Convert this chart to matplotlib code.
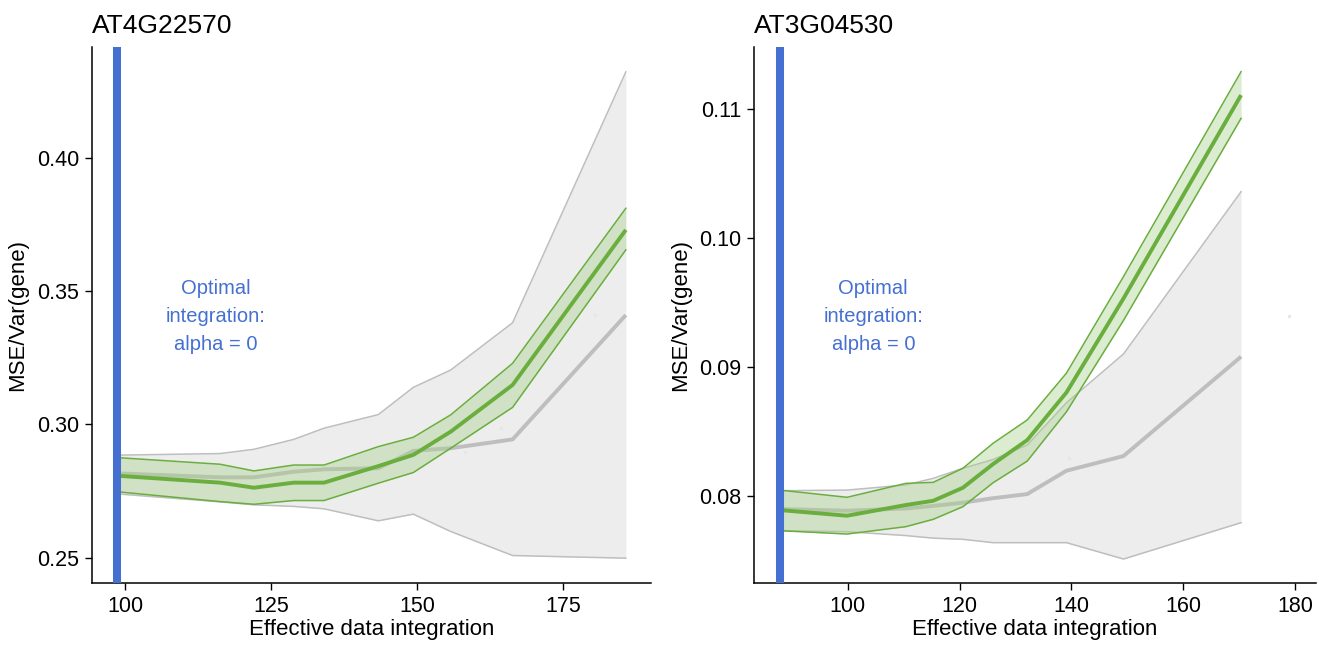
import numpy as np
import matplotlib

matplotlib.use("Agg")
import matplotlib.pyplot as plt

plt.rcParams["font.family"] = ["Liberation Sans", "DejaVu Sans"]

# Data panel kiri (AT4G22570)
left_title = "AT4G22570"
left_x = [98.6, 116.3, 122.1, 128.9, 134.1, 143.4, 149.4, 155.8, 166.4, 185.8]
left_green_mid = [0.2808, 0.2782, 0.2763, 0.2782, 0.2782, 0.2844, 0.2886, 0.2973, 0.3148, 0.3729]
left_green_hi = [0.2876, 0.2851, 0.2826, 0.2848, 0.2848, 0.2917, 0.2952, 0.3036, 0.3229, 0.3810]
left_green_lo = [0.2748, 0.2711, 0.2701, 0.2715, 0.2715, 0.2780, 0.2820, 0.2911, 0.3064, 0.3654]
left_grey_mid = [0.2817, 0.2802, 0.2802, 0.2823, 0.2832, 0.2836, 0.2901, 0.2911, 0.2944, 0.3410]
left_grey_hi = [0.2885, 0.2891, 0.2907, 0.2944, 0.2986, 0.3037, 0.3139, 0.3204, 0.3381, 0.4321]
left_grey_lo = [0.2740, 0.2710, 0.2699, 0.2693, 0.2684, 0.2639, 0.2664, 0.2599, 0.2509, 0.2499]
left_optimal = 98.6
left_faint_x = [158.2, 164.5, 180.5]
left_faint_y = [0.2898, 0.2988, 0.3410]
left_xticks = [100, 125, 150, 175]
left_yticks = [0.25, 0.30, 0.35, 0.40]
left_yticklabels = ["0.25", "0.30", "0.35", "0.40"]

# Data panel kanan (AT3G04530)
right_title = "AT3G04530"
right_x = [87.9, 99.9, 110.4, 115.3, 120.6, 126.0, 132.1, 139.1, 149.3, 170.3]
right_green_mid = [0.07888, 0.07844, 0.07927, 0.07960, 0.08061, 0.08245, 0.08431, 0.0880, 0.0953, 0.11107]
right_green_hi = [0.08043, 0.07987, 0.08095, 0.08103, 0.08212, 0.08406, 0.08587, 0.0895, 0.0970, 0.11289]
right_green_lo = [0.07728, 0.07702, 0.07759, 0.07816, 0.07914, 0.08100, 0.08268, 0.0865, 0.0936, 0.10927]
right_grey_mid = [0.07896, 0.07883, 0.0790, 0.0792, 0.07945, 0.0798, 0.08012, 0.08193, 0.08307, 0.09078]
right_grey_hi = [0.08038, 0.08043, 0.08083, 0.08134, 0.08212, 0.0828, 0.08393, 0.0872, 0.09099, 0.10358]
right_grey_lo = [0.07728, 0.07720, 0.0769, 0.0767, 0.07661, 0.07635, 0.07635, 0.07635, 0.07508, 0.07790]
right_optimal = 87.9
right_faint_x = [139.5, 178.8]
right_faint_y = [0.0829, 0.0939]
right_xticks = [100, 120, 140, 160, 180]
right_yticks = [0.08, 0.09, 0.10, 0.11]
right_yticklabels = ["0.08", "0.09", "0.10", "0.11"]

optimal_text = "Optimal\nintegration:\nalpha = 0"

GREEN = "#6aae3e"
GREY = "#bebebe"
BLUE = "#4570d2"


def draw_panel(ax, title, x, g_mid, g_lo, g_hi, r_mid, r_lo, r_hi, optimal,
               faint_x, faint_y, xticks, yticks, yticklabels, xlim, ylim, text_xy):
    """
    Menggambar satu panel: pita abu-abu, pita hijau, garis optimal dan teks.
    """
    # Pita abu-abu (referensi)
    ax.fill_between(x, r_lo, r_hi, color="#ededed", lw=0, zorder=1)
    ax.plot(x, r_lo, color=GREY, lw=1.1, zorder=2)
    ax.plot(x, r_hi, color=GREY, lw=1.1, zorder=2)
    ax.plot(x, r_mid, color=GREY, lw=2.8, zorder=2, solid_capstyle="butt")

    # Titik samar
    ax.scatter(faint_x, faint_y, s=6, color="#e6e6e6", lw=0, zorder=2)

    # Pita hijau
    ax.fill_between(x, g_lo, g_hi, color="#a5d08a", alpha=0.4, lw=0, zorder=3)
    ax.plot(x, g_lo, color=GREEN, lw=1.1, zorder=4)
    ax.plot(x, g_hi, color=GREEN, lw=1.1, zorder=4)
    ax.plot(x, g_mid, color=GREEN, lw=2.8, zorder=4, solid_capstyle="butt")

    # Garis vertikal integrasi optimal
    ax.axvline(optimal, color=BLUE, lw=5.8, zorder=5)
    ax.text(text_xy[0], text_xy[1], optimal_text, color=BLUE, fontsize=14.5,
            ha="center", va="center", linespacing=1.6, zorder=6)

    ax.set_xlim(*xlim)
    ax.set_ylim(*ylim)
    ax.set_xticks(xticks)
    ax.set_yticks(yticks)
    ax.set_yticklabels(yticklabels)

    # Gaya theme_classic
    for side in ["top", "right"]:
        ax.spines[side].set_visible(False)
    for side in ["left", "bottom"]:
        ax.spines[side].set_linewidth(1.1)
    ax.tick_params(labelsize=15.5, length=5, width=1.0, color="black", pad=4)
    ax.set_xlabel("Effective data integration", fontsize=16, labelpad=2)
    ax.set_ylabel("MSE/Var(gene)", fontsize=16, labelpad=6)
    ax.set_title(title, loc="left", fontsize=19, pad=10)


fig = plt.figure(figsize=(13.19, 6.47), dpi=100)
ax1 = fig.add_axes([0.0695, 0.0989, 0.4240, 0.8292])
ax2 = fig.add_axes([0.5717, 0.0989, 0.4261, 0.8292])

draw_panel(ax1, left_title, left_x, left_green_mid, left_green_lo, left_green_hi,
           left_grey_mid, left_grey_lo, left_grey_hi, left_optimal,
           left_faint_x, left_faint_y, left_xticks, left_yticks, left_yticklabels,
           (94.3, 190.1), (0.2406, 0.4416), (115.5, 0.3404))

draw_panel(ax2, right_title, right_x, right_green_mid, right_green_lo, right_green_hi,
           right_grey_mid, right_grey_lo, right_grey_hi, right_optimal,
           right_faint_x, right_faint_y, right_xticks, right_yticks, right_yticklabels,
           (83.3, 183.7), (0.07322, 0.11484), (104.6, 0.0939))

fig.savefig("out.png", dpi=100)
